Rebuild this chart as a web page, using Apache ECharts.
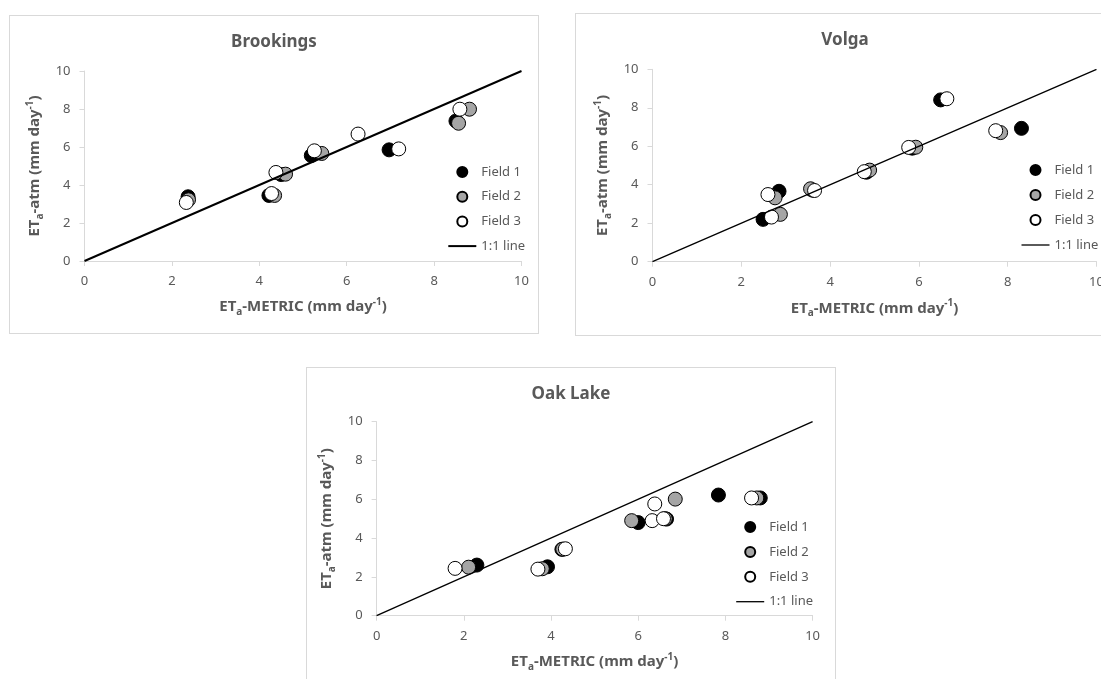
<!DOCTYPE html>
<html>
<head>
<meta charset="utf-8">
<script src="https://cdn.jsdelivr.net/npm/echarts@6/dist/echarts.min.js"></script>
<style>
  html, body { margin: 0; padding: 0; background: #fff; width: 1101px; height: 679px; overflow: hidden; position: relative; }
  .panel { position: absolute; border: 1px solid #d9d9d9; box-sizing: border-box; background: #fff; }
</style>
</head>
<body>
<div id="brookings" class="panel" style="left:9px;top:15px;width:530px;height:319px"></div>
<div id="volga" class="panel" style="left:575px;top:13px;width:540px;height:323px"></div>
<div id="oaklake" class="panel" style="left:306px;top:367px;width:530px;height:330px"></div>
<script>
// Axis range shared by all three sites (mm day-1)
const axisMin = 0;
const axisMax = 10;
const axisStep = 2;

const fieldNames = ['Field 1', 'Field 2', 'Field 3'];
const lineName = '1:1 line';
const oneToOne = [[0, 0], [10, 10]];

// [ET_a-METRIC, ET_a-atm] pairs per field
const brookingsField1 = [[2.37, 3.38], [4.22, 3.45], [4.50, 4.55], [5.19, 5.55], [6.97, 5.85], [8.50, 7.37]];
const brookingsField2 = [[2.38, 3.22], [4.35, 3.45], [4.60, 4.57], [5.43, 5.66], [8.56, 7.25], [8.81, 7.99]];
const brookingsField3 = [[2.33, 3.08], [4.28, 3.55], [4.38, 4.66], [5.26, 5.80], [6.26, 6.68], [7.19, 5.90], [8.59, 7.99]];

const volgaField1 = [[2.49, 2.20], [2.85, 3.66], [3.60, 3.72], [4.82, 4.65], [5.85, 5.90], [6.49, 8.41], [8.31, 6.93]];
const volgaField2 = [[2.88, 2.46], [2.76, 3.32], [3.56, 3.79], [4.89, 4.76], [5.93, 5.95], [7.84, 6.71]];
const volgaField3 = [[2.68, 2.32], [2.60, 3.49], [3.65, 3.70], [4.77, 4.68], [5.77, 5.94], [6.63, 8.47], [7.73, 6.81]];

const oakField1 = [[2.30, 2.61], [3.92, 2.52], [4.25, 3.42], [6.00, 4.80], [6.65, 4.98], [7.84, 6.22], [8.80, 6.07]];
const oakField2 = [[2.11, 2.50], [3.80, 2.42], [4.27, 3.43], [5.85, 4.90], [6.62, 5.00], [6.85, 6.01], [8.72, 6.07]];
const oakField3 = [[1.80, 2.44], [3.70, 2.40], [4.33, 3.45], [6.32, 4.90], [6.38, 5.76], [6.58, 5.00], [8.60, 6.07]];

const fieldFills = ['#000000', '#a5a5a5', '#ffffff'];
const textGray = '#595959';
const axisGray = '#d9d9d9';
const fontFamily = 'Noto Sans';

function axisNameRich() {
  return {
    b: { fontSize: 15, fontWeight: 'bold', color: textGray, lineHeight: 20, fontFamily },
    s: { fontSize: 10, fontWeight: 'bold', color: textGray, lineHeight: 10, verticalAlign: 'bottom', fontFamily },
    p: { fontSize: 10, fontWeight: 'bold', color: textGray, lineHeight: 10, verticalAlign: 'top', fontFamily }
  };
}

function valueAxis(name, gap, labelMargin) {
  return {
    type: 'value',
    min: axisMin,
    max: axisMax,
    interval: axisStep,
    name: name,
    nameLocation: 'middle',
    nameGap: gap,
    nameTextStyle: { verticalAlign: 'middle', rich: axisNameRich() },
    axisLine: { show: true, lineStyle: { color: axisGray, width: 1 } },
    axisTick: { show: true, inside: false, length: 5, lineStyle: { color: axisGray } },
    axisLabel: { color: textGray, fontSize: 13, margin: labelMargin, fontFamily },
    splitLine: { show: false }
  };
}

// legend glyph for the 1:1 line: a thin bar as wide as the legend icon
function lineIcon(width) {
  return 'path://M0,0H28V' + width + 'H0Z';
}

function drawSite(el, cfg) {
  const chart = echarts.init(document.getElementById(el), null, { renderer: 'canvas' });
  const scatter = (name, data, fill) => ({
    name: name,
    type: 'scatter',
    data: data,
    symbol: 'circle',
    symbolSize: 14,
    itemStyle: { color: fill, borderColor: '#000', borderWidth: 1, opacity: 1 },
    emphasis: { disabled: true },
    silent: true
  });
  chart.setOption({
    animation: false,
    backgroundColor: 'transparent',
    textStyle: { fontFamily },
    title: {
      text: cfg.title,
      left: 'center',
      top: cfg.titleTop,
      textStyle: { color: textGray, fontSize: 17, fontWeight: 'bold', lineHeight: 20, fontFamily }
    },
    grid: { left: cfg.grid[0], top: cfg.grid[1], width: cfg.grid[2], height: cfg.grid[3], containLabel: false },
    xAxis: valueAxis('{b|ET}{s|a}{b|-METRIC (mm day}{p|-1}{b|)}', cfg.xGap, 14),
    yAxis: valueAxis('{b|ET}{s|a}{b|-atm (mm day}{p|-1}{b|)}', cfg.yGap, 14),
    legend: {
      orient: 'vertical',
      left: cfg.legend[0],
      top: cfg.legend[1],
      itemGap: cfg.legend[2],
      padding: 0,
      itemWidth: 28,
      itemHeight: 10,
      selectedMode: false,
      textStyle: { color: textGray, fontSize: 13, lineHeight: 16, fontFamily },
      data: [
        { name: fieldNames[0], icon: 'circle' },
        { name: fieldNames[1], icon: 'circle' },
        { name: fieldNames[2], icon: 'circle' },
        { name: lineName, icon: lineIcon(cfg.lineWidth), itemStyle: { color: '#000', borderWidth: 0 } }
      ]
    },
    series: [
      {
        name: lineName,
        type: 'line',
        data: oneToOne,
        symbol: 'none',
        showSymbol: false,
        lineStyle: { color: '#000', width: cfg.lineWidth },
        itemStyle: { color: '#000' },
        emphasis: { disabled: true },
        silent: true
      },
      scatter(fieldNames[0], cfg.fields[0], fieldFills[0]),
      scatter(fieldNames[1], cfg.fields[1], fieldFills[1]),
      scatter(fieldNames[2], cfg.fields[2], fieldFills[2])
    ]
  });
}

drawSite('brookings', {
  title: 'Brookings',
  titleTop: 11.5,
  grid: [74.5, 55, 437, 190],
  xGap: 46, yGap: 44,
  legend: [438.3, 148, 8.7],
  lineWidth: 2,
  fields: [brookingsField1, brookingsField2, brookingsField3]
});

drawSite('volga', {
  title: 'Volga',
  titleTop: 11.3,
  grid: [76.5, 55.3, 444, 192.4],
  xGap: 46.6, yGap: 47,
  legend: [445.5, 148, 9],
  lineWidth: 1.3,
  fields: [volgaField1, volgaField2, volgaField3]
});

drawSite('oaklake', {
  title: 'Oak Lake',
  titleTop: 10.7,
  grid: [69.6, 53.7, 436, 194],
  xGap: 46, yGap: 44.3,
  legend: [429.2, 151, 8.9],
  lineWidth: 1.3,
  fields: [oakField1, oakField2, oakField3]
});
</script>
</body>
</html>
